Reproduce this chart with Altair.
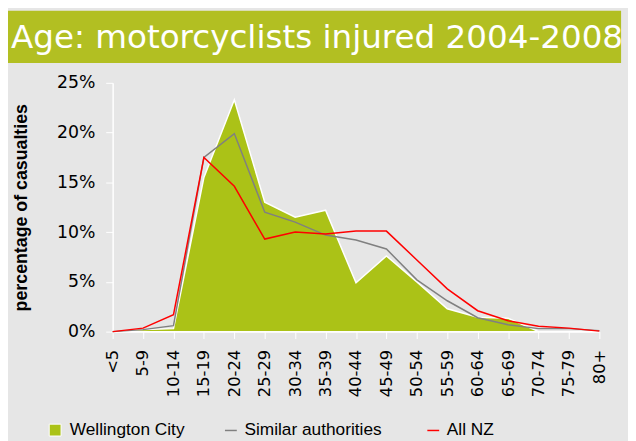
import altair as alt
import pandas as pd

ages = ["<5", "5-9", "10-14", "15-19", "20-24", "25-29", "30-34", "35-39", "40-44",
        "45-49", "50-54", "55-59", "60-64", "65-69", "70-74", "75-79", "80+"]
wellington = [0.0, 0.2, 0.3, 15.5, 23.3, 13.0, 11.5, 12.2, 4.9, 7.6, 5.0, 2.3, 1.45, 1.35, 0.0, 0.0, 0.0]
similar = [0.0, 0.2, 0.6, 17.5, 19.9, 12.0, 11.0, 9.7, 9.2, 8.3, 5.2, 3.1, 1.4, 0.7, 0.3, 0.3, 0.1]
all_nz = [0.0, 0.35, 1.7, 17.5, 14.6, 9.3, 10.0, 9.8, 10.1, 10.1, 7.2, 4.3, 2.1, 1.1, 0.55, 0.35, 0.05]

title_text = "Age: motorcyclists injured 2004-2008"
series_area = "Wellington City"
series_lines = ["Similar authorities", "All NZ"]

GREEN_BAR = "#b2bf22"
GREEN_AREA = "#abc217"
GRAY = "#808080"
RED = "#ff0000"
BG = "#e6e6e6"
FONT = "Liberation Sans"
WIDE = "DejaVu Sans"

W, H = 493, 252

area_df = pd.DataFrame({"age": ages, "value": [v / 100 for v in wellington], "series": series_area})
line_df = pd.concat([
    pd.DataFrame({"age": ages, "value": [v / 100 for v in similar], "series": series_lines[0]}),
    pd.DataFrame({"age": ages, "value": [v / 100 for v in all_nz], "series": series_lines[1]}),
])

x_enc = alt.X("age:N", sort=ages,
              scale=alt.Scale(type="point", padding=0),
              axis=alt.Axis(title=None, labelAngle=270, labelAlign="right", labelBaseline="middle",
                            labelFontSize=16.5, labelColor="#000000", labelFont=WIDE, labelPadding=11,
                            tickColor="#ffffff", tickSize=7, domainColor="#ffffff", domainWidth=1.5,
                            grid=False))
y_enc = alt.Y("value:Q",
              scale=alt.Scale(domain=[0, 0.25], nice=False),
              axis=alt.Axis(title="percentage of casualties", format=".0%", values=[0, 0.05, 0.1, 0.15, 0.2, 0.25],
                            titleFontSize=18, titleFont=FONT, titleFontWeight="bold", titleColor="#000000",
                            titlePadding=26, labelFontSize=17.5, labelFont=WIDE, labelColor="#000000",
                            labelPadding=11, tickColor="#ffffff", tickSize=7, domainColor="#ffffff",
                            domainWidth=1.5, grid=False))

area = alt.Chart(area_df).mark_area(stroke="#ffffff", strokeWidth=1.5, opacity=1).encode(
    x=x_enc, y=y_enc,
    fill=alt.Fill("series:N", scale=alt.Scale(domain=[series_area], range=[GREEN_AREA]),
                  legend=alt.Legend(title=None, orient="none", legendX=-67, legendY=343, padding=0,
                                    symbolType="square", symbolSize=144, symbolStrokeColor="#ffffff",
                                    symbolStrokeWidth=1, labelFontSize=17.5, labelFont=FONT,
                                    labelColor="#000000", labelOffset=6)),
)

lines = alt.Chart(line_df).mark_line(strokeWidth=1.5).encode(
    x=x_enc, y=y_enc,
    stroke=alt.Stroke("series:N", sort=series_lines,
                      scale=alt.Scale(domain=series_lines, range=[GRAY, RED]),
                      legend=alt.Legend(title=None, orient="none", legendX=111, legendY=343, padding=0,
                                        direction="horizontal", symbolType="stroke", symbolSize=144,
                                        symbolStrokeWidth=1.5, columnPadding=42,
                                        labelFontSize=17.5, labelFont=FONT, labelColor="#000000",
                                        labelOffset=5)),
)

bar = alt.Chart(pd.DataFrame({"t": [title_text]})).mark_rect(color=GREEN_BAR).encode(
    x=alt.value(-106), x2=alt.value(W + 22), y=alt.value(-73), y2=alt.value(-20)
)
title = alt.Chart(pd.DataFrame({"t": [title_text]})).mark_text(
    color="#ffffff", font=WIDE, fontSize=33, align="left", baseline="alphabetic"
).encode(text="t:N", x=alt.value(-103), y=alt.value(-35))

chart = alt.layer(bar, title, area, lines).resolve_scale(fill="independent", stroke="independent").properties(
    width=W, height=H, background=BG,
    autosize=alt.AutoSizeParams(type="none"),
    padding={"left": 106, "top": 73, "right": 29, "bottom": 108},
).configure_view(stroke=None, fill=BG)

chart.save("out.html", embed_options={"renderer": "svg", "actions": False})
